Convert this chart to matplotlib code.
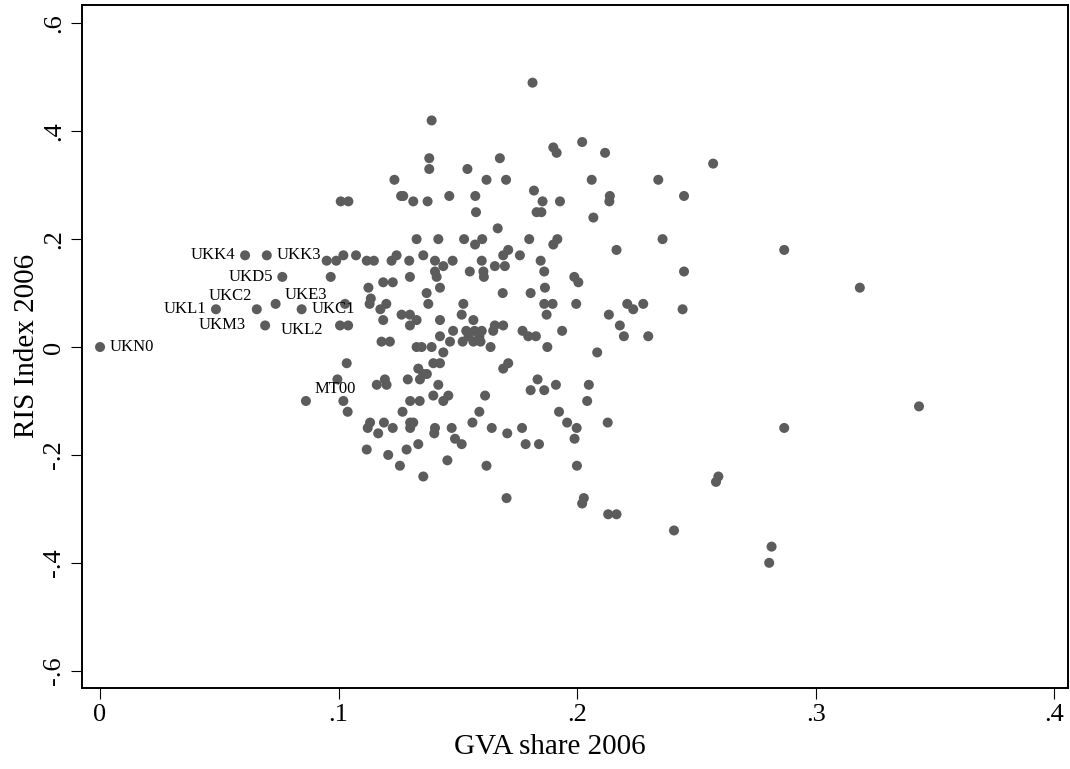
import matplotlib
matplotlib.use("Agg")
import matplotlib.pyplot as plt

plt.rcParams['font.family'] = ['Liberation Serif', 'DejaVu Serif']

# GVA share 2006 (x) and RIS index 2006 (y)
gva_share = [
    0.0, 0.0608, 0.0699, 0.0764, 0.0486, 0.0657, 0.0736, 0.0845, 0.0692, 0.1006, 0.0863,
    0.095, 0.099, 0.102, 0.0967, 0.1027, 0.104, 0.1034, 0.0995, 0.102, 0.1038,
    0.1073, 0.1118, 0.1148, 0.1222, 0.1243, 0.1296, 0.1355, 0.1404, 0.1439, 0.1478,
    0.1404, 0.1411, 0.16, 0.155, 0.1607,
    0.1187, 0.1227, 0.1299, 0.1125, 0.1369, 0.1425, 0.1376,
    0.1135, 0.113, 0.120, 0.1175,
    0.1187, 0.1264, 0.1299, 0.1327, 0.1299, 0.1425, 0.1523, 0.1516, 0.1565, 0.148, 0.1425, 0.1467,
    0.1535, 0.157, 0.160, 0.1545, 0.159, 0.152, 0.1565, 0.1595,
    0.118, 0.1215, 0.1327, 0.1348, 0.139, 0.1439,
    0.1397, 0.1425,
    0.1334, 0.1355, 0.137, 0.1341, 0.129,
    0.116, 0.1201, 0.1194, 0.1418, 0.1397, 0.146, 0.13, 0.134, 0.1614,
    0.1439, 0.1268, 0.1132, 0.1122, 0.119, 0.1227, 0.1166, 0.13, 0.1313, 0.13, 0.1404,
    0.1401, 0.1474, 0.1488, 0.1516, 0.1561, 0.159, 0.1118, 0.1208, 0.1285, 0.1334,
    0.1257, 0.1355, 0.1456, 0.162,
    0.139, 0.138, 0.138, 0.154, 0.162, 0.1234, 0.1009, 0.1041, 0.1262, 0.1271,
    0.1313, 0.1373, 0.1464, 0.1573, 0.1576, 0.1327, 0.1418, 0.1526, 0.1572, 0.1602,
    0.1813, 0.19, 0.1914, 0.2021, 0.2117, 0.1676, 0.1702, 0.2061, 0.234, 0.1819,
    0.1855, 0.1928, 0.183, 0.185, 0.2137, 0.2135, 0.2068, 0.1667, 0.1799, 0.1917,
    0.19, 0.2358, 0.1711, 0.2165,
    0.169, 0.176, 0.1655, 0.1697, 0.1847, 0.1862, 0.1609, 0.1688, 0.1805, 0.1865,
    0.1988, 0.2005, 0.1862, 0.1897, 0.1872, 0.1996, 0.2133, 0.221, 0.2235, 0.2277,
    0.2179, 0.2196, 0.2298, 0.1655, 0.169, 0.1648, 0.1771, 0.1795, 0.1827, 0.1937,
    0.1637, 0.1875, 0.2084, 0.1711, 0.169, 0.1834, 0.1805, 0.1862, 0.1911, 0.2049,
    0.2042, 0.1924,
    0.1642, 0.1707, 0.1769, 0.1784, 0.184, 0.1958, 0.1998, 0.1989, 0.2128, 0.1999,
    0.1704, 0.2028, 0.2021, 0.213, 0.2165, 0.2406,
    0.257, 0.2448, 0.2868, 0.2448, 0.3185, 0.2442, 0.2868, 0.2592, 0.2582, 0.2815,
    0.2805, 0.3433,
]
ris_index = [
    0.0, 0.17, 0.17, 0.13, 0.07, 0.07, 0.08, 0.07, 0.04, 0.04, -0.10,
    0.16, 0.16, 0.17, 0.13, 0.08, 0.04, -0.03, -0.06, -0.10, -0.12,
    0.17, 0.16, 0.16, 0.16, 0.17, 0.16, 0.17, 0.16, 0.15, 0.16,
    0.14, 0.13, 0.16, 0.14, 0.14,
    0.12, 0.12, 0.13, 0.11, 0.10, 0.11, 0.08,
    0.09, 0.08, 0.08, 0.07,
    0.05, 0.06, 0.06, 0.05, 0.04, 0.05, 0.08, 0.06, 0.05, 0.03, 0.02, 0.01,
    0.03, 0.03, 0.03, 0.02, 0.02, 0.01, 0.01, 0.01,
    0.01, 0.01, 0.0, 0.0, 0.0, -0.01,
    -0.03, -0.03,
    -0.04, -0.05, -0.05, -0.06, -0.06,
    -0.07, -0.07, -0.06, -0.07, -0.09, -0.09, -0.10, -0.10, -0.09,
    -0.10, -0.12, -0.14, -0.15, -0.14, -0.15, -0.16, -0.14, -0.14, -0.15, -0.15,
    -0.16, -0.15, -0.17, -0.18, -0.14, -0.12, -0.19, -0.20, -0.19, -0.18,
    -0.22, -0.24, -0.21, -0.22,
    0.42, 0.35, 0.33, 0.33, 0.31, 0.31, 0.27, 0.27, 0.28, 0.28,
    0.27, 0.27, 0.28, 0.28, 0.25, 0.20, 0.20, 0.20, 0.19, 0.20,
    0.49, 0.37, 0.36, 0.38, 0.36, 0.35, 0.31, 0.31, 0.31, 0.29,
    0.27, 0.27, 0.25, 0.25, 0.28, 0.27, 0.24, 0.22, 0.20, 0.20,
    0.19, 0.20, 0.18, 0.18,
    0.17, 0.17, 0.15, 0.15, 0.16, 0.14, 0.13, 0.10, 0.10, 0.11,
    0.13, 0.12, 0.08, 0.08, 0.06, 0.08, 0.06, 0.08, 0.07, 0.08,
    0.04, 0.02, 0.02, 0.04, 0.04, 0.03, 0.03, 0.02, 0.02, 0.03,
    0.0, 0.0, -0.01, -0.03, -0.04, -0.06, -0.08, -0.08, -0.07, -0.07,
    -0.10, -0.12,
    -0.15, -0.16, -0.15, -0.18, -0.18, -0.14, -0.15, -0.17, -0.14, -0.22,
    -0.28, -0.28, -0.29, -0.31, -0.31, -0.34,
    0.34, 0.28, 0.18, 0.14, 0.11, 0.07, -0.15, -0.24, -0.25, -0.37,
    -0.40, -0.11,
]

# labelled regions (the first 11 points above)
region_names = ['UKN0', 'UKK4', 'UKK3', 'UKD5', 'UKL1', 'UKC2',
                'UKE3', 'UKC1', 'UKM3', 'UKL2', 'MT00']
# label placement: offset in pixels from the point, and horizontal alignment
label_style = {
    'UKN0': (10, 0, 'left'), 'UKK4': (-10, 0, 'right'), 'UKK3': (10, 0, 'left'),
    'UKD5': (-9, 0, 'right'), 'UKL1': (-10, 0, 'right'), 'UKC2': (-5, 13, 'right'),
    'UKE3': (9, 9, 'left'), 'UKC1': (10, 0, 'left'), 'UKM3': (-19, 0, 'right'),
    'UKL2': (-17, -5, 'right'), 'MT00': (9, 12, 'left'),
}

fig = plt.figure(figsize=(10.7, 7.69), dpi=100)
ax = fig.add_axes([0.0764, 0.1057, 0.9216, 0.8878])

ax.scatter(gva_share, ris_index, s=52, color='#5c5c5c', edgecolors='none', zorder=3)

for i, name in enumerate(region_names):
    dx, dy, ha = label_style[name]
    ax.annotate(name, (gva_share[i], ris_index[i]), xytext=(dx * 0.72, dy * 0.72),
                textcoords='offset points', ha=ha, va='center', fontsize=12)

ax.set_xlim(-0.00767, 0.4057)
ax.set_ylim(-0.6315, 0.634)
ax.set_xticks([0, 0.1, 0.2, 0.3, 0.4])
ax.set_xticklabels(['0', '.1', '.2', '.3', '.4'])
ax.set_yticks([-0.6, -0.4, -0.2, 0, 0.2, 0.4, 0.6])
ax.set_yticklabels(['-.6', '-.4', '-.2', '0', '.2', '.4', '.6'], rotation=90, va='center')
ax.tick_params(direction='out', length=8, width=0.8, labelsize=19, pad=4)

for sp in ax.spines.values():
    sp.set_linewidth(1.4)

ax.set_xlabel('GVA share 2006', fontsize=21, labelpad=2)
ax.xaxis.set_label_coords(0.475, -0.068)
ax.set_ylabel('RIS Index 2006', fontsize=21, labelpad=2)

plt.savefig('out.png', dpi=100)
